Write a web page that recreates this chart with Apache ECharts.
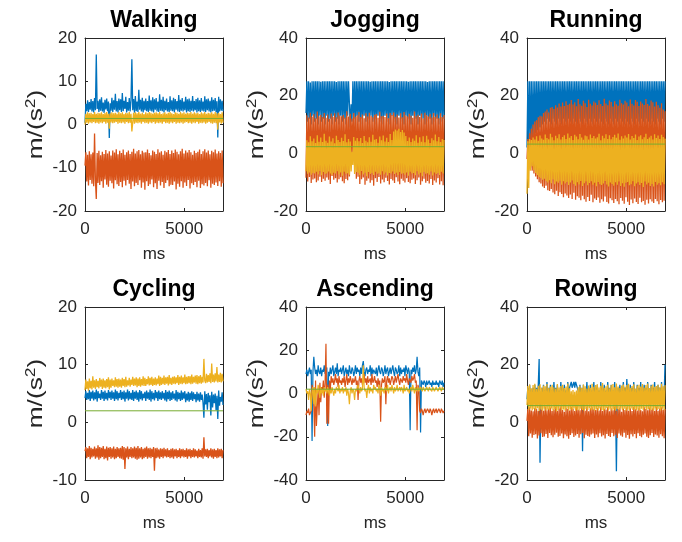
<!DOCTYPE html>
<html>
<head>
<meta charset="utf-8">
<script src="https://cdn.jsdelivr.net/npm/echarts@6/dist/echarts.min.js"></script>
<style>
  html, body { margin: 0; padding: 0; background: #fff; }
  #chart { width: 682px; height: 542px; }
</style>
</head>
<body>
<div id="chart"></div>
<script>
// Accelerometer traces (m/s^2) for six activities over a ~6.95 s window.
const X_MAX = 6952;
const X_TICKS = [0, 5000];

// Walking
const walkingX = [0.4, 4.8, 3.1, 5.6, 2.9, 5.2, 3.4, 5.9, 3.0, 5.4,
  2.8, 6.1, 3.3, 16.2, 3.6, 5.5, 2.9, 5.8, 3.2, 6.3,
  3.0, 5.1, 2.7, 5.7, 3.5, 6.0, 3.1, 5.3, -3.1, 4.9,
  3.2, 6.2, 2.9, 5.6, 3.4, 7.1, 3.0, 5.4, 2.8, 6.0,
  3.3, 5.8, 2.9, 7.3, 3.1, 5.5, 3.6, 6.4, 2.8, 5.2,
  3.2, 6.1, 3.0, 5.6, 15.1, 3.3, 5.9, 2.7, 6.6, 3.1,
  5.3, 2.9, 8.0, 3.4, 5.7, 3.0, 6.2, 2.8, 5.5, 3.3,
  6.0, 3.1, 5.4, 2.9, 6.7, 3.2, 5.6, 3.0, 6.3, 2.8,
  5.8, 3.4, 6.1, 3.0, 5.3, 2.9, 7.0, 3.2, 5.7, 3.1,
  6.4, 2.8, 5.5, 3.3, 6.0, 3.0, 5.2, 2.9, 6.5, 3.2,
  5.6, 3.1, 6.2, 2.8, 5.9, 3.4, 5.4, 3.0, 6.8, 2.9,
  5.7, 3.2, 6.1, 3.0, 5.3, 3.3, 6.4, 2.8, 5.8, 3.1,
  6.0, 2.9, 5.5, 3.2, 6.6, 3.0, 5.4, 3.3, 5.9, 2.8,
  6.2, 3.1, 5.6, 2.9, 6.1, 3.2, 5.3, 3.0, 6.5, 2.9,
  5.8, 3.3, 6.0, 3.0, 5.5, 2.8, 6.3, 3.1, 5.7, 3.2,
  6.1, 2.9, 5.4, -3.0, 6.4, 3.0, 5.8, 3.2, 5.5, 3.1];
const walkingY = [-9.5, -6.4, -13.2, -7.0, -14.1, -6.2, -12.8, -6.9, -13.7, -6.5,
  -14.3, -2.1, -12.9, -17.2, -6.6, -13.5, -6.1, -14.0, -7.1, -13.1,
  -6.3, -14.6, -6.8, -12.7, -5.9, -13.9, -6.7, -14.4, -6.2, -13.0,
  -7.2, -13.6, -6.0, -14.8, -6.5, -12.9, -5.7, -13.8, -6.9, -14.2,
  -6.1, -13.3, -6.6, -14.5, -5.8, -13.0, -7.0, -14.1, -6.4, -12.8,
  -6.0, -13.7, -6.8, -14.9, -6.3, -13.2, -5.6, -14.3, -6.7, -13.5,
  -6.2, -14.0, -5.9, -12.9, -6.9, -14.6, -6.1, -13.4, -6.5, -15.1,
  -6.4, -13.1, -5.8, -14.2, -6.6, -13.8, -7.1, -12.7, -6.0, -14.5,
  -6.3, -13.6, -6.8, -14.9, -5.7, -13.0, -6.5, -14.1, -6.2, -13.3,
  -7.0, -14.7, -6.1, -13.5, -6.4, -12.9, -5.9, -14.3, -6.8, -13.9,
  -6.0, -14.0, -6.6, -13.2, -5.8, -15.0, -6.3, -13.7, -6.9, -14.4,
  -6.2, -13.1, -5.6, -14.6, -6.7, -13.4, -6.0, -14.2, -6.5, -12.8,
  -5.9, -14.8, -6.4, -13.6, -7.0, -14.0, -6.1, -13.3, -6.6, -14.5,
  -6.3, -13.0, -5.8, -14.7, -6.8, -13.8, -6.2, -14.1, -5.7, -13.5,
  -6.5, -14.3, -6.0, -12.9, -6.9, -14.6, -6.1, -13.7, -6.4, -14.0,
  -5.8, -13.4, -6.7, -14.2, -6.2, -13.1, -6.6, -14.4, -6.0, -13.6];
const walkingZ = [0.0, 2.5, 0.4, 2.8, 0.2, 2.6, 0.5, 2.7, 0.3, 2.4,
  0.6, 2.9, 0.3, 2.5, 0.4, 2.7, 0.2, 2.6, 0.5, 2.8,
  0.3, 2.4, 0.6, 2.7, 0.2, 2.9, 0.4, 2.5, -1.0, 2.6,
  0.5, 2.8, 0.3, 2.6, 0.4, 2.7, 0.6, 2.5, 0.2, 2.9,
  0.4, 2.6, 0.3, 2.8, 0.5, 2.4, 0.2, 2.7, 0.6, 2.6,
  0.3, 2.9, 0.4, 2.5, -1.6, 0.5, 2.7, 0.2, 2.8, 0.4,
  2.6, 0.3, 2.9, 0.5, 2.5, 0.2, 2.7, 0.6, 2.4, 0.3,
  2.8, 0.4, 2.6, 0.2, 2.9, 0.5, 2.7, 0.3, 2.5, 0.6,
  2.7, 0.2, 2.8, 0.4, 2.6, 0.3, 2.9, 0.5, 2.4, 0.2,
  2.6, 0.6, 2.8, 0.3, 2.5, 0.4, 2.7, 0.2, 2.9, 0.5,
  2.6, 0.3, 2.4, 0.6, 2.8, 0.2, 2.7, 0.4, 2.5, 0.3,
  2.9, 0.5, 2.6, 0.2, 2.8, 0.4, 2.5, 0.6, 2.7, 0.3,
  2.6, 0.4, 2.9, 0.2, 2.5, 0.5, 2.8, 0.3, 2.6, 0.6,
  2.7, 0.2, 2.4, 0.4, 2.8, 0.3, 2.6, 0.5, 2.9, 0.2,
  2.5, 0.4, 2.7, 0.6, 2.6, 0.3, 2.8, 0.2, 2.5, 0.4,
  2.9, 0.3, 2.6, -1.2, 2.7, 0.5, 2.4, 0.2, 2.8, 0.4];
const walkingRef = 1.4;

// Jogging
const joggingX = [14, 25, 11, 25, 12, 24.6, 10, 25, 13, 25,
  11, 25, 12, 25, 10, 25, 13, 24.8, 11, 25,
  12, 25, 10, 25, 13, 25, 11, 25, 12, 25,
  10, 25, 13, 25, 11, 24.7, 12, 25, 10, 25,
  13, 25, 11, 25, 12, 25, 10, 25, 13, 25,
  17.5, 9, 17, 11, 25, 12, 25, 10, 25, 13,
  25, 11, 25, 12, 25, 10, 25, 13, 25, 11,
  25, 12, 25, 10, 24.8, 13, 25, 11, 25, 12,
  25, 10, 25, 13, 25, 11, 25, 12, 25, 10,
  25, 13, 25, 11, 25, 12, 24.7, 10, 25, 13,
  25, 11, 25, 12, 25, 10, 25, 13, 25, 11,
  25, 12, 25, 10, 25, 13, 25, 11, 24.8, 12,
  25, 10, 25, 13, 25, 11, 25, 12, 25, 10,
  25, 13, 25, 11, 25, 12, 25, 10, 25, 13,
  24.7, 11, 25, 12, 25, 10, 25, 13, 25, 11,
  25, 12, 25, 10, 25, 13, 25, 11, 25, 12];
const joggingY = [-8.5, 13.2, -9.8, 12.4, -8.2, 14.1, -10.3, 12.8, -9.1, 13.6,
  -8.7, 12.2, -10.0, 14.5, -9.4, 12.9, -8.1, 13.4, -9.9, 12.6,
  -8.8, 14.0, -9.5, 12.3, -8.4, 13.5, -9.2, 12.0, -10.6, 13.8,
  -7.9, 12.7, -9.2, 13.9, -8.6, 12.5, -10.1, 14.2, -9.0, 13.1,
  -8.3, 12.9, -9.7, 13.3, -10.4, 12.4, -8.9, 14.6, -9.3, 12.8,
  -8.0, 13.7, -1.0, 12.1, 0.2, 14.0, -3.5, 12.7, -8.8, 13.2,
  -8.1, 14.3, -10.6, 12.6, -9.0, 13.5, -8.4, 12.2, -10.9, 13.9,
  -9.5, 12.8, -8.7, 14.1, -10.2, 13.0, -9.3, 12.5, -11.2, 13.4,
  -8.6, 13.6, -9.9, 12.3, -8.2, 14.4, -10.5, 12.9, -9.1, 13.0,
  -10.0, 12.6, -8.5, 13.8, -9.6, 12.2, -10.8, 14.0, -8.9, 13.3,
  -9.4, 14.2, -10.3, 12.7, -8.3, 13.5, -9.8, 12.4, -10.7, 13.9,
  -8.8, 12.5, -9.5, 14.3, -10.1, 13.1, -8.6, 12.8, -9.9, 13.7,
  -10.4, 13.0, -9.2, 12.3, -8.7, 14.5, -10.6, 12.9, -9.3, 13.4,
  -8.4, 12.6, -10.9, 13.8, -9.7, 12.1, -8.8, 14.1, -10.2, 13.2,
  -9.6, 12.8, -10.5, 13.6, -8.9, 12.4, -11.0, 14.0, -9.4, 12.7,
  -10.1, 13.5, -8.6, 12.2, -10.8, 13.9, -9.7, 12.6, -11.1, 13.3];
const joggingZ = [-6.2, 4.5, -7.1, 3.8, -6.6, 5.9, -7.4, 4.2, -6.8, 5.1,
  -7.0, 3.6, -6.4, 6.3, -7.3, 4.0, -6.1, 5.5, -7.6, 3.9,
  -6.5, 6.8, -7.2, 4.4, -6.9, 3.7, -6.3, 5.8, -7.0, 4.1,
  -7.5, 5.2, -6.7, 3.5, -7.0, 6.1, -6.2, 4.6, -7.3, 3.9,
  -6.6, 5.4, -7.8, 4.3, -6.4, 6.6, -7.1, 3.8, -6.9, 5.0,
  -7.4, 4.1, -6.3, 0.5, -4.0, 5.7, -7.2, 4.4, -6.5, 5.3,
  -6.8, 4.2, -7.6, 5.3, -6.1, 3.6, -7.3, 6.0, -6.7, 4.4,
  -7.9, 3.8, -6.5, 5.6, -7.2, 4.0, -6.8, 6.4, -7.5, 4.7,
  -6.4, 5.0, -7.1, 3.7, -6.9, 5.8, -7.4, 4.5, -6.2, 6.2,
  -7.3, 4.1, -6.6, 5.4, -7.7, 3.9, -6.8, 6.7, -7.0, 4.6,
  -6.3, 7.6, -7.2, 8.3, -6.7, 7.9, -7.5, 8.5, -6.5, 7.4,
  -7.1, 8.1, -6.9, 7.2, -7.4, 6.0, -6.6, 4.3, -7.8, 5.5,
  -6.4, 3.9, -7.0, 5.1, -6.8, 4.4, -7.6, 6.3, -6.2, 3.7,
  -7.3, 5.6, -6.7, 4.0, -7.9, 5.9, -6.5, 3.8, -7.1, 6.1,
  -6.9, 4.8, -7.4, 3.6, -6.3, 5.2, -7.7, 4.5, -6.6, 6.5,
  -7.2, 4.2, -6.8, 5.7, -7.5, 3.9, -6.4, 5.0, -7.0, 4.6];
const joggingRef = 2.3;

// Running
const runningX = [2, 25, 3, 25, 4, 25, 5, 25, 6, 25,
  7, 25, 8, 25, 9, 25, 9, 25, 10, 25,
  11, 25, 10, 25, 12, 25, 11, 25, 10, 25,
  12, 25, 11, 25, 10, 25, 12, 25, 11, 25,
  10, 25, 12, 25, 11, 25, 10, 25, 12, 25,
  11, 25, 10, 25, 12, 25, 11, 25, 10, 25,
  12, 25, 11, 25, 10, 25, 12, 25, 11, 25,
  10, 25, 12, 25, 11, 25, 10, 25, 12, 25,
  11, 25, 10, 25, 12, 25, 11, 25, 10, 25,
  12, 25, 11, 25, 10, 25, 12, 25, 11, 25,
  10, 25, 12, 25, 11, 25, 10, 25, 12, 25,
  11, 25, 10, 25, 12, 25, 11, 25, 10, 25,
  12, 25, 11, 25, 10, 25, 12, 25, 11, 25,
  10, 25, 12, 25, 11, 25, 10, 25, 12, 25,
  11, 25, 10, 25, 12, 25, 11, 25, 10, 25,
  12, 25, 11, 25, 10, 25, 12, 25, 11, 25];
const runningY = [-2, 5, -3.5, 7, -5, 8.5, -6, 10, -7, 11,
  -8, 11.5, -9, 12.5, -10, 13, -10.5, 12.8, -11.5, 14,
  -12, 14.5, -11.2, 15.2, -12.8, 14.2, -13.1, 15.8, -12.4, 16.1,
  -13.6, 15.4, -14.2, 16.7, -13.0, 15.9, -14.8, 17.3, -13.5, 16.2,
  -14.1, 17.6, -15.2, 16.4, -13.9, 18.1, -14.6, 16.8, -15.5, 17.2,
  -14.3, 18.5, -15.8, 16.9, -13.7, 17.7, -16.1, 16.3, -14.9, 18.8,
  -15.4, 17.0, -16.3, 16.5, -14.7, 18.2, -15.9, 17.4, -16.8, 16.1,
  -15.1, 18.6, -16.5, 17.2, -14.4, 16.6, -17.0, 18.0, -15.7, 17.5,
  -16.2, 16.8, -15.3, 18.4, -17.1, 17.1, -15.9, 16.4, -16.7, 18.9,
  -15.0, 17.3, -16.9, 16.7, -17.4, 18.3, -15.6, 17.8, -16.3, 16.2,
  -17.2, 18.1, -15.8, 17.0, -16.6, 16.5, -17.7, 18.6, -15.5, 17.4,
  -16.4, 16.9, -17.5, 18.2, -15.2, 17.6, -16.8, 16.3, -17.9, 18.7,
  -16.0, 17.2, -17.3, 16.6, -15.7, 18.5, -16.9, 17.9, -17.6, 16.4,
  -15.4, 18.0, -17.0, 17.3, -16.5, 16.8, -17.8, 18.8, -16.1, 17.1,
  -17.4, 16.5, -15.9, 18.3, -16.7, 17.7, -17.2, 16.2, -15.8, 17.9,
  -16.6, 16.7, -17.7, 15.8, -16.2, 17.4, -17.0, 15.2, -16.4, 14.6];
const runningZ = [-14, 4.2, -12, 5.0, -6, 4.6, -4.5, 5.5, -5.8, 4.8,
  -6.8, 5.9, -7.5, 4.4, -8.2, 6.2, -8.6, 5.1, -9.2, 4.7,
  -8.8, 6.5, -9.6, 5.3, -10.1, 4.9, -9.3, 6.8, -10.4, 5.6,
  -9.1, 4.5, -10.7, 6.1, -9.8, 5.2, -10.2, 6.6, -9.5, 4.8,
  -10.9, 5.7, -9.7, 6.3, -10.5, 5.0, -9.9, 6.9, -11.0, 5.4,
  -10.1, 6.0, -9.4, 4.6, -10.6, 6.4, -11.2, 5.8, -10.0, 4.9,
  -10.8, 6.7, -9.6, 5.5, -11.3, 4.7, -10.4, 6.2, -9.8, 5.9,
  -11.1, 4.8, -10.3, 6.5, -9.7, 5.3, -10.9, 6.0, -10.2, 5.1,
  -11.4, 5.6, -9.9, 6.8, -10.7, 4.5, -11.0, 6.1, -10.5, 5.2,
  -9.6, 6.6, -10.8, 5.0, -11.5, 6.3, -10.1, 4.9, -10.6, 5.7,
  -11.2, 6.4, -10.0, 5.4, -10.9, 6.9, -9.8, 4.7, -11.3, 5.9,
  -10.4, 5.1, -11.6, 6.2, -10.2, 5.5, -9.9, 6.7, -11.1, 4.8,
  -10.7, 6.0, -9.7, 5.3, -11.4, 6.5, -10.5, 4.6, -10.0, 5.8,
  -11.0, 6.3, -10.3, 4.9, -11.7, 5.6, -9.8, 6.8, -10.8, 5.0,
  -10.2, 5.5, -11.3, 6.1, -10.6, 4.8, -11.5, 6.6, -9.9, 5.3,
  -10.9, 6.2, -10.4, 5.0, -11.1, 6.4, -10.0, 5.7, -10.7, 5.1];
const runningRef = 3.2;

// Cycling
const cyclingX = [4.2, 5.4, 3.9, 5.1, 4.0, 5.6, 3.7, 5.3, 4.1, 5.5,
  3.8, 5.2, 4.0, 5.7, 3.6, 5.4, 4.2, 5.0, 3.9, 5.6,
  4.1, 5.3, 3.7, 5.5, 4.0, 5.1, 3.8, 5.6, 4.2, 5.3,
  3.9, 5.5, 4.1, 5.2, 3.7, 5.7, 4.0, 5.4, 3.8, 5.1,
  4.2, 5.6, 3.9, 5.3, 4.0, 5.5, 3.6, 5.2, 4.1, 5.7,
  3.8, 5.4, 4.0, 5.1, 3.9, 5.6, 3.7, 5.3, 4.1, 5.5,
  3.9, 5.2, 3.6, 5.6, 4.0, 5.4, 3.8, 5.0, 4.2, 5.3,
  3.7, 5.5, 4.1, 5.2, 3.9, 5.7, 3.6, 5.4, 4.0, 5.1,
  3.8, 5.6, 4.2, 5.3, 3.7, 5.5, 4.0, 5.2, 3.9, 5.4,
  4.1, 5.1, 3.8, 5.6, 3.6, 5.3, 4.0, 5.5, 3.7, 5.2,
  3.9, 5.4, 4.1, 5.0, 3.8, 5.6, 3.6, 5.3, 4.0, 5.1,
  3.7, 5.5, 3.9, 5.2, 4.1, 5.4, 3.5, 5.0, 3.8, 5.3,
  3.6, 5.1, 3.9, 5.4, 3.7, 5.2, 4.0, 4.9, 3.5, 5.3,
  3.8, 5.0, 3.6, 5.2, 3.9, 4.8, 3.4, 0.8, 5.4, 3.1,
  4.9, 2.2, 5.1, 3.5, 4.7, 1.2, 5.3, 2.6, 4.8, 3.3,
  5.0, 2.1, 4.6, 0.6, 5.5, 2.9, 4.4, 3.6, 5.2, 3.0];
const cyclingY = [-5.0, -4.3, -6.2, -4.5, -6.0, -4.1, -6.4, -4.4, -6.1, -4.6,
  -5.9, -4.2, -6.3, -4.5, -6.1, -4.0, -6.5, -4.3, -6.2, -4.4,
  -6.0, -4.1, -6.4, -4.6, -6.2, -4.2, -6.6, -4.4, -6.0, -4.3,
  -6.3, -4.5, -6.1, -4.2, -6.4, -4.6, -6.2, -4.3, -6.0, -4.5,
  -6.2, -4.4, -6.3, -4.1, -6.5, -4.3, -8.1, -4.5, -6.1, -4.2,
  -6.4, -4.6, -6.0, -4.3, -6.2, -4.5, -6.1, -4.2, -6.3, -4.4,
  -6.5, -4.1, -6.3, -4.5, -6.1, -4.3, -6.4, -4.6, -6.2, -4.4,
  -6.0, -4.2, -6.3, -4.5, -6.1, -4.4, -6.2, -4.6, -6.0, -4.3,
  -8.4, -4.5, -6.2, -4.4, -6.1, -4.7, -6.3, -4.5, -6.0, -4.6,
  -6.2, -4.4, -5.9, -4.7, -6.1, -4.5, -6.0, -4.8, -6.2, -4.6,
  -6.1, -4.5, -6.3, -4.7, -5.9, -4.6, -6.2, -4.8, -6.0, -4.5,
  -6.2, -4.7, -5.9, -4.6, -6.1, -4.8, -6.0, -4.5, -6.3, -4.7,
  -5.9, -4.6, -6.2, -4.8, -6.0, -4.5, -6.1, -4.7, -5.9, -4.9,
  -6.2, -4.6, -6.0, -4.8, -6.1, -4.5, -6.3, -2.6, -5.9, -4.7,
  -6.0, -4.6, -6.2, -4.8, -5.9, -4.5, -6.1, -4.7, -6.3, -4.6,
  -6.0, -4.8, -6.2, -4.5, -6.1, -4.7, -5.9, -4.6, -6.2, -4.8];
const cyclingZ = [5.6, 7.4, 5.8, 7.1, 5.5, 7.6, 5.9, 7.2, 5.7, 8.0,
  6.0, 7.3, 5.8, 7.5, 6.1, 7.2, 5.9, 7.7, 6.2, 7.4,
  5.8, 7.6, 6.0, 7.3, 5.9, 7.5, 6.1, 7.8, 5.7, 7.4,
  6.0, 7.6, 6.3, 7.3, 6.1, 7.8, 6.2, 7.5, 6.0, 7.6,
  6.2, 7.4, 6.0, 7.7, 6.3, 7.5, 6.1, 7.9, 6.2, 7.3,
  6.4, 7.7, 6.2, 7.4, 6.5, 7.9, 6.3, 7.6, 6.4, 7.8,
  6.1, 7.6, 6.3, 7.8, 6.2, 7.5, 6.4, 8.0, 6.3, 7.7,
  6.3, 7.5, 6.6, 8.0, 6.4, 7.7, 6.5, 7.9, 6.3, 7.6,
  6.5, 7.8, 6.4, 7.6, 6.6, 8.1, 6.3, 7.9, 6.5, 7.7,
  6.6, 8.1, 6.5, 7.8, 6.7, 7.9, 6.4, 8.2, 6.6, 7.7,
  6.5, 7.9, 6.7, 8.0, 6.6, 7.8, 6.8, 8.2, 6.5, 7.9,
  6.7, 8.1, 6.6, 7.8, 6.8, 8.3, 6.6, 7.9, 6.7, 8.0,
  6.8, 8.0, 6.6, 8.3, 6.7, 7.9, 6.9, 8.1, 6.7, 8.2,
  6.6, 8.0, 6.8, 8.2, 6.7, 7.9, 6.9, 11.0, 7.2, 6.8,
  8.4, 6.9, 8.2, 7.0, 8.5, 6.8, 10.2, 7.0, 8.3, 6.9,
  8.5, 7.1, 9.6, 6.9, 8.3, 7.0, 8.6, 6.9, 8.4, 7.1];
const cyclingRef = 2.0;

// Ascending
const ascendingX = [9, 11, 8, 10, 12, 9, 11, -22, 10, 17,
  12, 9, 11, 8, 13, 10, 9, 12, 8, 11,
  10, 13, 9, 11, 12, -15, 10, 8, 12, 9,
  11, 13, 8, 10, 12, 9, 14, 8, 11, 10,
  12, 9, 11, 13, 8, 10, 12, 9, 11, 8,
  13, 10, 9, 12, 11, 8, 10, 13, 9, 12,
  10, 11, 8, 12, 9, 13, 15, 10, 8, 11,
  12, 9, 11, 10, 13, 8, 12, 9, 11, 10,
  9, 12, 8, 11, 13, 10, 9, 12, 11, 8,
  10, 13, 9, 11, 12, 8, 10, 12, 9, 11,
  13, 10, 8, 12, 11, 9, 10, 13, 8, 12,
  9, 11, 10, 12, 8, 13, 11, 9, 12, 10,
  -17, 11, 9, 12, 10, 13, 9, 11, 17, 10,
  8, 12, -18, 6, 5, 4, 6, 5, 3, 6,
  4, 5, 6, 4, 5, 3, 6, 4, 5, 4,
  6, 4, 5, 3, 6, 5, 4, 6, 3, 5];
const ascendingY = [-10, -8, -9, -7, -10, -9, -8, 4, 2, -6,
  -20, 6, -15, -6, 2, -10, 5, -4, 3, 1,
  6, -2, 5, 23, -14, 4, -14, 6, 2, 8,
  5, 7, 4, 6, 9, 5, 7, 3, 8, 5,
  6, 4, 7, 5, 8, 3, 6, 9, 4, 7,
  5, 8, 6, 4, 7, 5, 6, 8, 4, 6,
  -3, 6, 8, 5, 7, 4, 6, 9, 5, 7,
  4, 8, 5, 6, 7, 4, 9, 5, 6, 8,
  5, 6, 3, 7, 4, 6, -13, 4, 7, 5,
  6, 8, -5, 6, 8, 5, 7, 4, 6, 8,
  7, 4, 6, 8, 5, 7, 9, 6, 4, 7,
  6, 5, 8, 6, 7, 5, 9, 6, 4, 7,
  6, 5, 8, 6, 7, 9, 5, 6, -17, 4,
  2, -8, -9, -7, -8, -10, -8, -7, -9, -8,
  -7, -8, -9, -7, -8, -10, -8, -7, -9, -8,
  -7, -9, -8, -7, -8, -9, -7, -8, -9, -8];
const ascendingZ = [2, 0, 1, -3, 2, 0, -8, 1, 3, -5,
  3, -6, 2, 0, 4, 1, -2, 3, 0, 2,
  -1, 3, 1, 2, 0, 3, 1, -1, 2, 0,
  3, 1, -1, 2, 0, 3, 2, 1, 4, 0,
  2, 1, 3, 0, 2, 1, 3, -1, 2, 0,
  -5, 1, 3, 0, 2, 1, -3, 2, 1, 3,
  4, 2, 0, 3, 1, 2, 13, 3, 1, 2,
  -2, 2, 4, 0, 3, 1, 2, 0, 4, 2,
  3, 1, 2, 0, 4, 2, -1, 3, 1, 2,
  0, 3, 2, 1, 4, 0, 2, 3, 1, 4,
  2, 0, 3, 1, 2, 4, 1, 2, 3, 1,
  3, 2, 0, 4, 1, 2, 3, 1, 2, 0,
  2, 3, 1, 4, 2, 0, 3, 1, 2, 3,
  1, 2, 3, 2, 1, 3, 2, 1, 2, 3,
  2, 1, 3, 2, 2, 1, 3, 2, 1, 2,
  3, 2, 1, 2, 3, 2, 1, 3, 2, 2];
const ascendingRef = 2.0;

// Rowing
const rowingX = [8, 12, 7, 13, 9, 11, 8, 12, 10, 13,
  7, 12, 9, 13, 22, -14, 8, 12, 7, 13,
  9, 11, 8, 14, 7, 12, 9, 13, 8, 11,
  7, 14, 9, 12, 8, 13, 7, 11, 9, 14,
  8, 12, 7, 13, 9, 11, 8, 14, 7, 12,
  13, 14, 12, 13, 14, 12, 14, 13, 12, 11,
  9, 13, 8, 12, -10, 13, 7, 11, 9, 14,
  8, 12, 7, 13, 9, 11, 8, 14, 7, 12,
  9, 13, 8, 11, 7, 14, 9, 12, 8, 13,
  7, 11, 9, 14, 8, 12, 7, 13, 9, 11,
  8, 14, 7, -17, 9, 12, 8, 13, 7, 11,
  9, 14, 8, 12, 7, 15, 9, 11, 8, 13,
  7, 12, 9, 14, 8, 11, 7, 13, 9, 12,
  8, 14, 7, 11, 9, 13, 8, 12, 7, 14,
  9, 11, 8, 13, 7, 12, 9, 14, 8, 11,
  7, 13, 9, 12, 8, 14, 7, 11, 9, 20];
const rowingY = [0.5, 4.6, -4.8, 5.2, -3.9, 4.1, -5.3, 3.8, -4.4, 5.0,
  -4.1, 4.7, -5.6, 3.9, -4.6, 5.3, -3.8, 4.4, -5.1, 4.0,
  -4.9, 5.5, -4.0, 4.2, -5.4, 4.8, -3.7, 5.1, -4.5, 3.9,
  -5.2, 4.5, -4.3, 5.4, -3.6, 4.0, -5.0, 4.9, -4.7, 5.6,
  -3.9, 4.3, -5.5, 3.7, -4.2, 5.0, -4.8, 4.6, -5.7, 4.1,
  -4.4, 5.3, -3.8, 4.8, -5.1, 3.9, -4.6, 5.5, -4.0, 4.4,
  -5.3, 4.2, -4.1, 5.1, -3.7, 4.7, -5.5, 4.0, -4.3, 5.4,
  -4.7, 3.8, -5.0, 4.9, -4.2, 5.2, -3.9, 4.5, -5.4, 4.3,
  -4.2, 5.0, -5.2, 4.1, -3.8, 5.4, -4.9, 3.9, -4.5, 4.7,
  -5.6, 4.4, -4.0, 5.3, -4.7, 3.8, -5.1, 4.9, -3.7, 4.2,
  -4.8, 5.5, -4.3, 4.0, -5.4, 4.6, -3.9, 5.1, -4.6, 3.7,
  -5.0, 4.8, -3.6, 4.3, -5.3, 5.2, -4.4, 4.0, -5.7, 4.9,
  -4.1, 3.9, -4.9, 5.4, -4.0, 4.5, -5.5, 4.1, -3.8, 5.0,
  -4.7, 4.3, -5.2, 3.8, -4.3, 5.3, -3.9, 4.7, -5.0, 4.2,
  -5.4, 5.1, -4.5, 4.4, -3.7, 4.9, -5.1, 3.9, -4.2, 5.5,
  -4.6, 4.0, -5.3, 4.8, -4.1, 5.2, -4.8, 4.4, -5.5, 4.6];
const rowingZ = [6.0, 12.6, 4.3, 13.1, 4.8, 11.8, 4.1, 12.9, 4.6, 13.4,
  4.2, 11.6, 4.9, 12.7, 3.9, 13.2, 4.5, 12.0, 4.0, 12.8,
  4.7, 12.5, 4.1, 13.3, 4.4, 11.9, 4.2, 12.4, 4.8, 13.0,
  4.0, 12.2, 4.6, 11.7, 3.8, 13.3, 4.3, 12.1, 4.9, 12.6,
  4.2, 13.0, 4.5, 11.9, 4.0, 12.4, 4.7, 13.5, 4.1, 11.8,
  4.6, 10.8, 4.2, 11.2, 4.8, 10.6, 4.0, 11.0, 4.4, 12.2,
  4.1, 12.7, 4.7, 11.9, 4.3, 13.1, 4.0, 12.5, 4.6, 11.7,
  4.3, 12.8, 4.9, 12.0, 4.2, 13.4, 4.5, 12.3, 4.0, 12.9,
  4.6, 13.2, 4.1, 12.1, 4.8, 12.7, 4.3, 13.6, 4.0, 12.0,
  4.4, 12.5, 4.9, 13.0, 4.2, 11.8, 4.7, 12.9, 4.1, 13.3,
  4.5, 12.2, 4.0, 13.5, 4.6, 12.4, 4.3, 11.9, 4.8, 12.8,
  4.2, 13.1, 4.7, 12.3, 4.0, 12.9, 4.5, 13.4, 4.1, 12.0,
  4.8, 12.6, 4.3, 13.2, 4.6, 11.7, 4.1, 12.8, 4.4, 13.0,
  4.0, 12.4, 4.7, 13.3, 4.2, 12.1, 4.9, 12.9, 4.3, 13.5,
  4.6, 11.9, 4.1, 12.7, 4.5, 13.1, 4.0, 12.3, 4.8, 12.6,
  4.3, 13.0, 4.6, 12.2, 4.1, 13.4, 4.7, 12.5, 4.2, 12.9];
const rowingRef = 5.8;

const SERIES_COLORS = ['#0072BD', '#D95319', '#EDB120', '#77AC30'];
const FONT = '"Liberation Sans", Arial, Helvetica, sans-serif';
const INK = '#262626';

const panels = [
  { title: 'Walking',   x: walkingX,   y: walkingY,   z: walkingZ,   ref: walkingRef,   yMin: -20, yMax: 20, yStep: 10, left: 85,  top: 38,  lw: 1.3 },
  { title: 'Jogging',   x: joggingX,   y: joggingY,   z: joggingZ,   ref: joggingRef,   yMin: -20, yMax: 40, yStep: 20, left: 306, top: 38,  lw: 1.3 },
  { title: 'Running',   x: runningX,   y: runningY,   z: runningZ,   ref: runningRef,   yMin: -20, yMax: 40, yStep: 20, left: 527, top: 38,  lw: 1.3 },
  { title: 'Cycling',   x: cyclingX,   y: cyclingY,   z: cyclingZ,   ref: cyclingRef,   yMin: -10, yMax: 20, yStep: 10, left: 85,  top: 307, lw: 1.3 },
  { title: 'Ascending', x: ascendingX, y: ascendingY, z: ascendingZ, ref: ascendingRef, yMin: -40, yMax: 40, yStep: 20, left: 306, top: 307, lw: 1.2 },
  { title: 'Rowing',    x: rowingX,    y: rowingY,    z: rowingZ,    ref: rowingRef,    yMin: -20, yMax: 40, yStep: 20, left: 527, top: 307, lw: 1.3 }
];
const PLOT_W = 138, PLOT_H = 173;

// sample times spread evenly over the recording window
const toPairs = vals => vals.map((v, i) => [i * X_MAX / (vals.length - 1), v]);

const grid = [], xAxis = [], yAxis = [], series = [], graphic = [];

panels.forEach((p, k) => {
  grid.push({ left: p.left, top: p.top, width: PLOT_W, height: PLOT_H });
  const tickStyle = { show: true, inside: true, length: 3, lineStyle: { color: INK, width: 1 } };
  const lineStyle = { show: true, onZero: false, lineStyle: { color: INK, width: 1 } };
  // bottom axis with labels, top axis closes the box
  xAxis.push({
    gridIndex: k, type: 'value', min: 0, max: X_MAX, interval: 5000,
    name: 'ms', nameLocation: 'middle', nameGap: 35,
    nameTextStyle: { fontFamily: FONT, fontSize: 17, color: INK },
    axisLine: lineStyle, axisTick: tickStyle, splitLine: { show: false },
    axisLabel: { fontFamily: FONT, fontSize: 17, color: INK, margin: 10, showMaxLabel: false,
      formatter: v => X_TICKS.includes(v) ? String(v) : '' }
  });
  xAxis.push({
    gridIndex: k, type: 'value', position: 'top', min: 0, max: X_MAX, interval: 5000,
    axisLine: lineStyle, axisTick: tickStyle, axisLabel: { show: false }, splitLine: { show: false }
  });
  yAxis.push({
    gridIndex: k, type: 'value', min: p.yMin, max: p.yMax, interval: p.yStep,
    axisLine: lineStyle, axisTick: tickStyle, splitLine: { show: false },
    axisLabel: { fontFamily: FONT, fontSize: 17, color: INK, margin: 8 }
  });
  yAxis.push({
    gridIndex: k, type: 'value', position: 'right', min: p.yMin, max: p.yMax, interval: p.yStep,
    axisLine: lineStyle, axisTick: tickStyle, axisLabel: { show: false }, splitLine: { show: false }
  });

  const traces = [p.x, p.y, p.z];
  traces.forEach((vals, j) => {
    series.push({
      type: 'line', xAxisIndex: 2 * k, yAxisIndex: 2 * k, data: toPairs(vals),
      showSymbol: false, symbol: 'none', silent: true, clip: true,
      lineStyle: { color: SERIES_COLORS[j], width: p.lw }
    });
  });
  series.push({
    type: 'line', xAxisIndex: 2 * k, yAxisIndex: 2 * k,
    data: [[0, p.ref], [X_MAX, p.ref]],
    showSymbol: false, symbol: 'none', silent: true,
    lineStyle: { color: SERIES_COLORS[3], width: 1 }
  });

  // panel title
  graphic.push({
    type: 'text', x: p.left + PLOT_W / 2, y: p.top - 29,
    style: { text: p.title, fontFamily: FONT, fontSize: 23, fontWeight: 'bold', fill: '#000',
      align: 'center', verticalAlign: 'top' }
  });
  // y-axis label with superscript
  graphic.push({
    type: 'text', x: p.left - 49, y: p.top + PLOT_H / 2, rotation: Math.PI / 2, scaleX: 1.25,
    style: { text: 'm/(s{sup|2})', fontFamily: FONT, fontSize: 21, fill: INK,
      align: 'center', verticalAlign: 'middle', lineHeight: 24,
      rich: { sup: { fontFamily: FONT, fontSize: 14, fill: INK, verticalAlign: 'top', lineHeight: 24 } } }
  });
});

const chart = echarts.init(document.getElementById('chart'), null, { renderer: 'canvas' });
chart.setOption({
  animation: false,
  backgroundColor: '#fff',
  grid, xAxis, yAxis, series, graphic
});
</script>
</body>
</html>
